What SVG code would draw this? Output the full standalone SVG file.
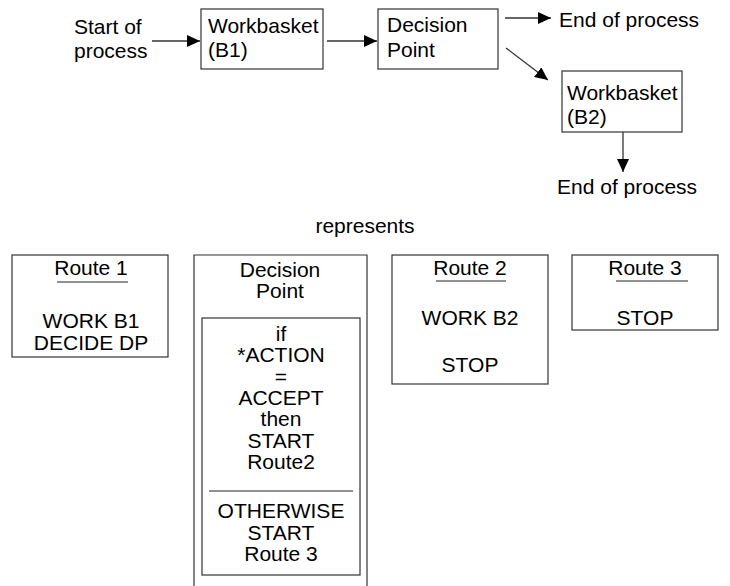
<svg xmlns="http://www.w3.org/2000/svg" width="730" height="586" viewBox="0 0 730 586">
<style>
text{font-family:"Liberation Sans",Arial,sans-serif;font-size:21px;fill:#000}
.c{text-anchor:middle}
.box{fill:#fff;stroke:#333;stroke-width:1.2}
.conn{stroke:#333;stroke-width:1.3;fill:none}
.ul{stroke:#222;stroke-width:1}
</style>
<defs>
<marker id="ah" viewBox="0 0 13 12" refX="13" refY="6" markerWidth="13" markerHeight="12" markerUnits="userSpaceOnUse" orient="auto">
<path d="M0,0 L13,6 L0,12 Z" fill="#000"/>
</marker>
</defs>
<rect width="730" height="586" fill="#fff"/>
<g id="start"><text x="74" y="34">Start of</text><text x="74" y="58">process</text></g>
<g id="b1"><rect class="box" x="201" y="9" width="122" height="60"/><text x="208" y="33">Workbasket</text><text x="208" y="57">(B1)</text></g>
<g id="dp"><rect class="box" x="378" y="9" width="120" height="60"/><text x="387" y="32">Decision</text><text x="387" y="57">Point</text></g>
<g id="end1"><text x="559" y="27">End of process</text></g>
<g id="b2"><rect class="box" x="562" y="71" width="120" height="61"/><text x="567" y="100">Workbasket</text><text x="567" y="124">(B2)</text></g>
<g id="end2"><text x="557" y="194">End of process</text></g>
<g id="connectors">
<line class="conn" x1="152" y1="41" x2="200" y2="41" marker-end="url(#ah)"/>
<line class="conn" x1="327" y1="41" x2="377" y2="41" marker-end="url(#ah)"/>
<line class="conn" x1="505" y1="18" x2="551" y2="18" marker-end="url(#ah)"/>
<line class="conn" x1="506" y1="48" x2="548" y2="80" marker-end="url(#ah)"/>
<line class="conn" x1="623" y1="132" x2="623" y2="172" marker-end="url(#ah)"/>
</g>
<g id="represents"><text class="c" x="365" y="233">represents</text></g>
<g id="route1"><rect class="box" x="12" y="255" width="156" height="102"/>
<text class="c" x="91" y="275">Route 1</text><line class="ul" x1="57" y1="282" x2="128" y2="282"/>
<text class="c" x="91" y="328">WORK B1</text><text class="c" x="91" y="350">DECIDE DP</text></g>
<g id="decision"><path class="box" d="M194,587 V255 H367 V587"/>
<text class="c" x="280" y="277">Decision</text><text class="c" x="280" y="298">Point</text>
<rect class="box" x="202" y="318" width="158" height="257"/>
<text class="c" x="281" y="341">if</text>
<text class="c" x="281" y="362">*ACTION</text>
<text class="c" x="281" y="384">=</text>
<text class="c" x="281" y="405">ACCEPT</text>
<text class="c" x="281" y="426">then</text>
<text class="c" x="281" y="448">START</text>
<text class="c" x="281" y="469">Route2</text>
<line class="ul" x1="209" y1="491" x2="353" y2="491"/>
<text class="c" x="281" y="518">OTHERWISE</text>
<text class="c" x="281" y="540">START</text>
<text class="c" x="281" y="561">Route 3</text></g>
<g id="route2"><rect class="box" x="392" y="255" width="156" height="129"/>
<text class="c" x="470" y="275">Route 2</text><line class="ul" x1="436" y1="281" x2="506" y2="281"/>
<text class="c" x="470" y="325">WORK B2</text><text class="c" x="470" y="372">STOP</text></g>
<g id="route3"><rect class="box" x="572" y="255" width="146" height="75"/>
<text class="c" x="645" y="275">Route 3</text><line class="ul" x1="616" y1="281" x2="688" y2="281"/>
<text class="c" x="645" y="325">STOP</text></g>
</svg>
